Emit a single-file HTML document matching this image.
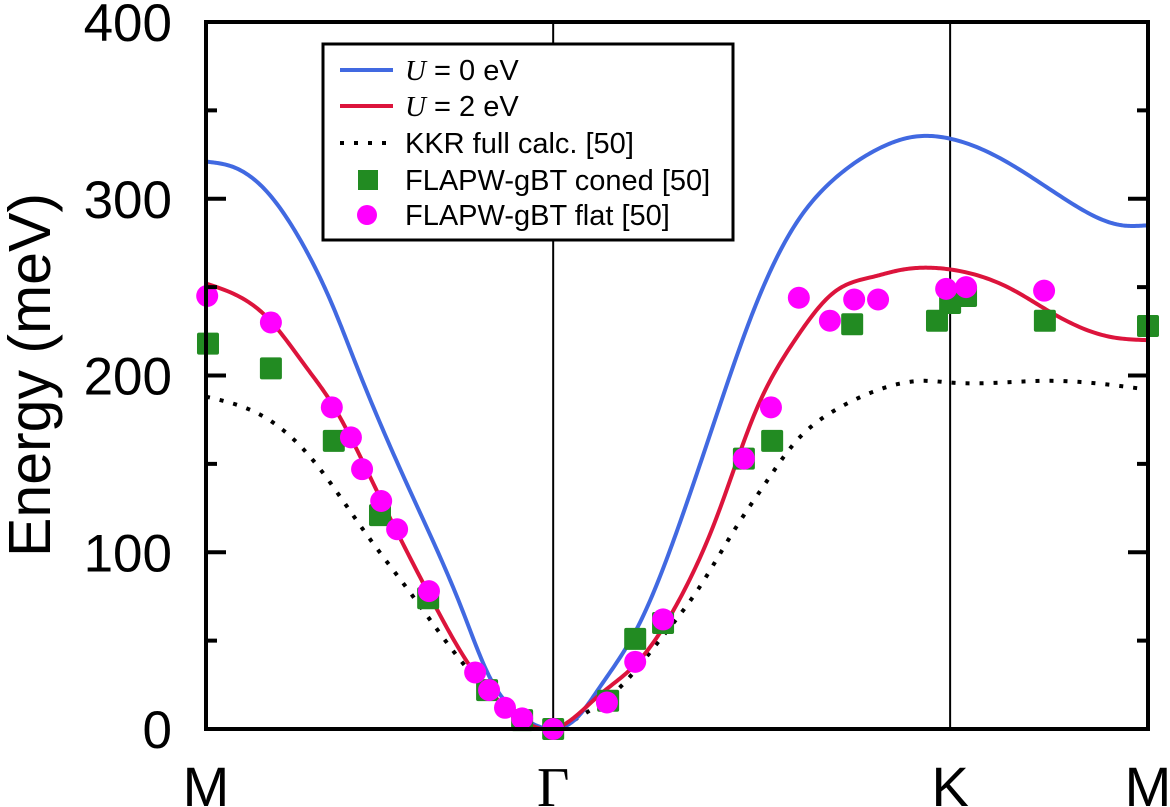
<!DOCTYPE html>
<html><head><meta charset="utf-8"><style>
html,body{margin:0;padding:0;background:#fff;}
svg{display:block;font-family:"Liberation Sans",sans-serif;}
</style></head><body>
<svg id="chart" width="1170" height="807" viewBox="0 0 1170 807"></svg>
<script>
const qTicks=[0,0.872,1.869,2.366];
const qTickLabels=["M","Γ","K","M"];
const yTicks=[0,100,200,300,400];
const blueQ=[0,0.068,0.153,0.236,0.319,0.379,0.520,0.646,0.711,0.771,0.82,0.872,0.93,0.987,1.085,1.186,1.283,1.381,1.479,1.577,1.678,1.776,1.869,2.002,2.170,2.300,2.366];
const blueE=[321,318,304,277,239,205,131,66,30,11,3,0,6,23,58,114,178,240,285,311,327,335,334,322,298,285,285];
const redQ=[0,0.153,0.254,0.311,0.437,0.563,0.671,0.771,0.872,0.987,1.085,1.186,1.283,1.381,1.479,1.577,1.678,1.74,1.806,1.869,2.022,2.120,2.268,2.366];
const redE=[252,233,204,186,131,75,33,9,0,19,38,72,120,180,220,247,256,259.5,261,260,249,236,222,220];
const kkrQ=[0,0.143,0.269,0.394,0.520,0.646,0.771,0.872,0.939,1.037,1.135,1.233,1.331,1.402,1.479,1.577,1.678,1.806,1.869,2.120,2.366];
const kkrE=[188,177,152,113,75,37,9,0,7,23,49,78,114,138,162,180,191,197,196,197,192];
const conedQ=[0.005,0.163,0.321,0.437,0.558,0.706,0.794,0.872,1.010,1.078,1.148,1.351,1.422,1.623,1.836,1.869,1.909,2.107,2.366];
const conedE=[218,204,163,121,74,22,5,0,16,51,60,153,163,229,231,241,245,231,228];
const flatQ=[0.003,0.163,0.316,0.364,0.392,0.440,0.480,0.560,0.676,0.711,0.751,0.794,0.872,1.007,1.078,1.148,1.351,1.419,1.489,1.567,1.628,1.688,1.859,1.909,2.105];
const flatE=[245,230,182,165,147,129,113,78,32,22,12,6,0,15,38,62,153,182,244,231,243,243,249,250,248];

const NS="http://www.w3.org/2000/svg";
const svg=document.getElementById('chart');
const X0=206,X1=1148,Y0=729,Y1=22;
const xs=q=>X0+(q-0)/(2.366)*(X1-X0);
const ys=e=>Y0-e/400*(Y0-Y1);
function el(t,a,p){const e=document.createElementNS(NS,t);for(const k in a)e.setAttribute(k,a[k]);(p||svg).appendChild(e);return e;}
function spline(Q,E){
  const n=Q.length,h=[],al=[0],l=[1],mu=[0],z=[0],c=new Array(n).fill(0),b=[],d=[];
  for(let i=0;i<n-1;i++)h.push(Q[i+1]-Q[i]);
  for(let i=1;i<n-1;i++)al.push(3/h[i]*(E[i+1]-E[i])-3/h[i-1]*(E[i]-E[i-1]));
  for(let i=1;i<n-1;i++){l[i]=2*(Q[i+1]-Q[i-1])-h[i-1]*mu[i-1];mu[i]=h[i]/l[i];z[i]=(al[i]-h[i-1]*z[i-1])/l[i];}
  for(let j=n-2;j>=0;j--){if(j>0)c[j]=z[j]-mu[j]*c[j+1];b[j]=(E[j+1]-E[j])/h[j]-h[j]*(c[j+1]+2*c[j])/3;d[j]=(c[j+1]-c[j])/(3*h[j]);}
  let s='';
  for(let i=0;i<n-1;i++){
    const steps=20;
    for(let k=(i===0?0:1);k<=steps;k++){
      const t=h[i]*k/steps,v=E[i]+b[i]*t+c[i]*t*t+d[i]*t*t*t;
      s+=(s?' L':'M')+xs(Q[i]+t).toFixed(2)+','+ys(v).toFixed(2);
    }
  }
  return s;
}
for(let i=1;i<qTicks.length-1;i++){
  const v=el('line',{x1:xs(qTicks[i]),x2:xs(qTicks[i]),y1:Y1,y2:Y0,stroke:'#000','stroke-width':2});
  
  
}
const kkr=el('path',{d:spline(kkrQ,kkrE),fill:'none',stroke:'#000','stroke-width':4,'stroke-dasharray':'4 10'});


const blue=el('path',{d:spline(blueQ,blueE),fill:'none',stroke:'#4169E1','stroke-width':4});


const red=el('path',{d:spline(redQ,redE),fill:'none',stroke:'#DC143C','stroke-width':4});


conedQ.forEach((q,i)=>{
  const r=el('rect',{x:xs(q)-11,y:ys(conedE[i])-11,width:22,height:22,rx:2,fill:'#228B22'});
  
  
});
flatQ.forEach((q,i)=>{
  const c=el('circle',{cx:xs(q),cy:ys(flatE[i]),r:11,fill:'#FF00FF'});
  
  
});
const fr=el('rect',{x:X0,y:Y1,width:X1-X0,height:Y0-Y1,fill:'none',stroke:'#000','stroke-width':4});


for(let e=0;e<=400;e+=50){
  const L=e%100===0?20:11;
  el('line',{x1:X0,x2:X0+L,y1:ys(e),y2:ys(e),stroke:'#000','stroke-width':4});
  el('line',{x1:X1-L,x2:X1,y1:ys(e),y2:ys(e),stroke:'#000','stroke-width':4});
}
yTicks.forEach(v=>{
  const t=el('text',{x:172,y:ys(v)+19,'text-anchor':'end','font-size':53});
  t.textContent=v;
  
  
});
qTicks.forEach((q,i)=>{
  const t=el('text',{x:xs(q),y:806,'text-anchor':'middle','font-size':56});
  if(qTickLabels[i]==='Γ')t.setAttribute('font-family','"Liberation Serif",serif');
  t.textContent=qTickLabels[i];
  
  
});
const yt=el('text',{x:0,y:0,transform:'translate(50,375) rotate(-90)','text-anchor':'middle','font-size':59});
yt.textContent='Energy (meV)';


const lg=el('g',{});


el('rect',{x:323,y:44,width:410,height:196,fill:'#fff',stroke:'#000','stroke-width':3},lg);
const rows=[70,106,143,180,215];
el('line',{x1:340,x2:393,y1:rows[0],y2:rows[0],stroke:'#4169E1','stroke-width':4},lg);
el('line',{x1:340,x2:393,y1:rows[1],y2:rows[1],stroke:'#DC143C','stroke-width':4},lg);
el('line',{x1:340,x2:390,y1:rows[2],y2:rows[2],stroke:'#000','stroke-width':4,'stroke-dasharray':'4 10'},lg);
el('rect',{x:358,y:rows[3]-10,width:20,height:20,fill:'#228B22'},lg);
el('circle',{cx:367,cy:rows[4],r:10,fill:'#FF00FF'},lg);
const labels=['<tspan font-family="Liberation Serif,serif" font-style="italic">U</tspan> = 0 eV','<tspan font-family="Liberation Serif,serif" font-style="italic">U</tspan> = 2 eV','KKR full calc. [50]','FLAPW-gBT coned [50]','FLAPW-gBT flat [50]'];
labels.forEach((s,i)=>{
  const t=el('text',{x:405,y:rows[i]+10,'font-size':29},lg);
  t.innerHTML=s;
  
  
});
</script>
</body></html>
